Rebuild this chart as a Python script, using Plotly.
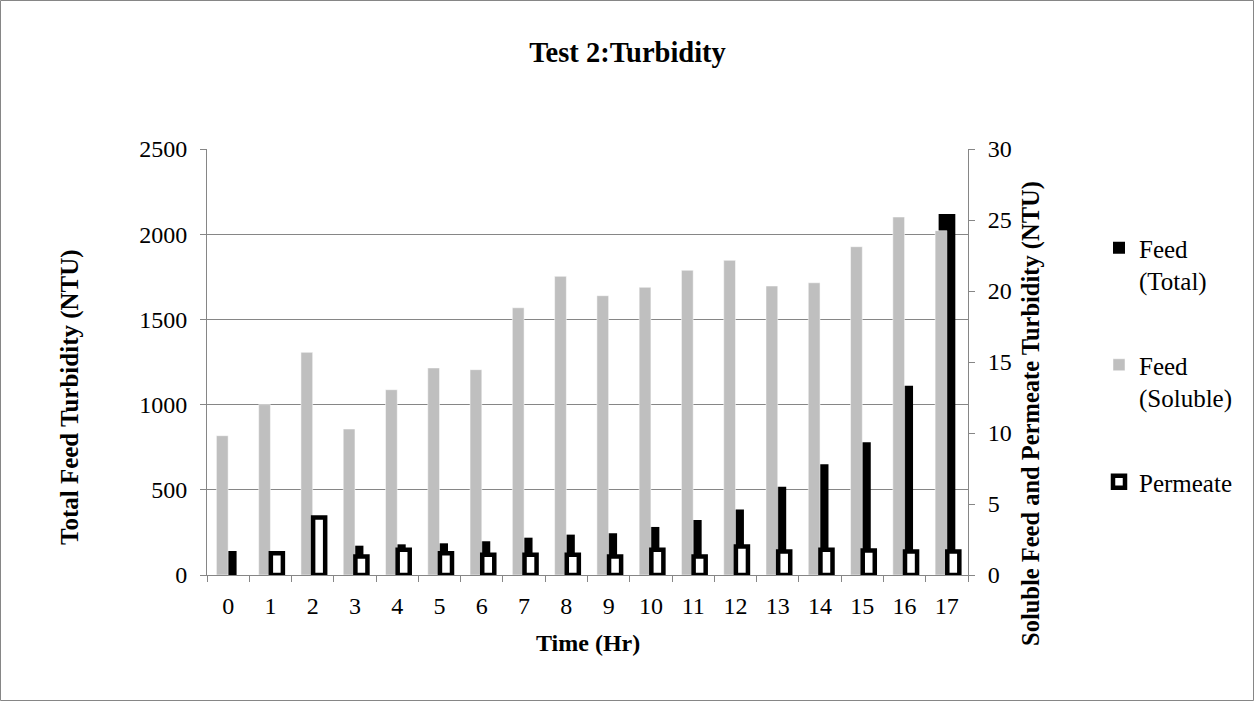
import plotly.graph_objects as go

hours = [str(h) for h in range(18)]
feed_total = [141, 135, 150, 172, 180, 186, 198, 219, 237, 245, 282, 323, 385, 518, 650, 779, 1111, 2118]
feed_soluble = [9.81, 12.0, 15.68, 10.28, 13.05, 14.58, 14.46, 18.82, 21.03, 19.67, 20.26, 21.46, 22.16, 20.35, 20.58, 23.12, 25.21, 24.25]
permeate = [None, 1.53, 4.05, 1.30, 1.77, 1.53, 1.42, 1.42, 1.42, 1.30, 1.77, 1.30, 2.0, 1.65, 1.77, 1.72, 1.65, 1.65]

FONT = "Liberation Serif, Times New Roman, serif"
GRID = "#868686"

fig = go.Figure()
fig.add_trace(go.Bar(
    x=hours, y=feed_total, name="Feed<br>(Total)", yaxis="y",
    offset=-0.195, width=0.395, marker=dict(color="black", line=dict(width=0)),
    legendgroup="a",
))
fig.add_trace(go.Bar(
    x=hours, y=feed_soluble, name="Feed<br>(Soluble)", yaxis="y2",
    offset=-0.278, width=0.278, marker=dict(color="#BFBFBF", line=dict(color="white", width=0.5)),
    legendgroup="b",
))
fig.add_trace(go.Bar(
    x=hours, y=permeate, name="Permeate", yaxis="y2",
    offset=0.01, width=0.285, marker=dict(color="white", line=dict(color="black", width=4.5)),
    legendgroup="c",
))

L, R, T, B = 207, 968, 149, 575
W, H = 1255, 724
pw, ph = R - L, B - T

def px(x):
    return (x - L) / pw

def py(y):
    return (B - y) / ph

fig.update_layout(
    width=W, height=H,
    margin=dict(l=L, r=W - R, t=T, b=H - B, autoexpand=False),
    paper_bgcolor="white", plot_bgcolor="white",
    barmode="overlay",
    font=dict(family=FONT, size=24, color="black"),
    title=dict(text="<b>Test 2:Turbidity</b>", x=0.5, xanchor="center", y=1 - 52 / H, yanchor="middle",
               font=dict(family=FONT, size=28.5, color="black")),
    xaxis=dict(type="category", tickson="boundaries", ticks="outside", ticklen=6, tickcolor=GRID,
               showline=True, linecolor=GRID, linewidth=1, showgrid=False,
               tickfont=dict(size=24), range=[-0.5, 17.5], ticklabelstandoff=9),
    yaxis=dict(range=[0, 2500], dtick=500, ticks="outside", ticklen=6, tickcolor=GRID,
               showline=True, linecolor=GRID, showgrid=True, gridcolor=GRID, gridwidth=1,
               zeroline=False, tickfont=dict(size=24), ticklabelstandoff=8),
    yaxis2=dict(range=[0, 30], dtick=5, overlaying="y", side="right", ticks="outside", ticklen=6,
                tickcolor=GRID, showline=True, linecolor=GRID, showgrid=False, zeroline=False,
                tickfont=dict(size=24), ticklabelstandoff=8),
    legend=dict(x=px(1099), y=py(225), xanchor="left", yanchor="top", valign="top",
                font=dict(family=FONT, size=25, color="black"), tracegroupgap=49,
                bgcolor="rgba(0,0,0,0)"),
    showlegend=True,
    annotations=[
        dict(text="<b>Total Feed Turbidity (NTU)</b>", textangle=-90, xref="paper", yref="paper",
             x=px(70), y=py(397), showarrow=False, font=dict(size=25), xanchor="center", yanchor="middle"),
        dict(text="<b>Soluble Feed and Permeate Turbidity (NTU)</b>", textangle=-90, xref="paper", yref="paper",
             x=px(1031), y=py(414), showarrow=False, font=dict(size=24.5), xanchor="center", yanchor="middle"),
        dict(text="<b>Time (Hr)</b>", xref="paper", yref="paper", x=0.5, y=py(643),
             showarrow=False, font=dict(size=24), xanchor="center", yanchor="middle"),
    ],
    shapes=[
        dict(type="rect", xref="paper", yref="paper", x0=px(0.5), x1=px(1253.5), y0=py(700.5), y1=py(0.5),
             line=dict(color=GRID, width=1), fillcolor="rgba(0,0,0,0)", layer="below"),
    ],
)

fig.write_html("out.html", config={"displayModeBar": False},
               post_script="document.body.style.margin='0px';")
